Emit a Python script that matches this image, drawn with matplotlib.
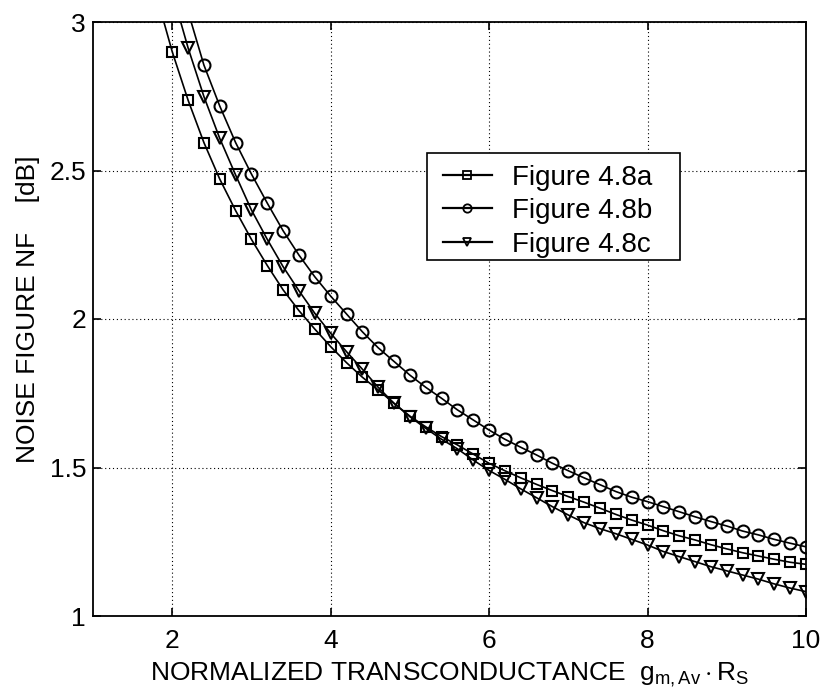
import matplotlib
matplotlib.use("Agg")
import matplotlib.pyplot as plt
from matplotlib.lines import Line2D
from matplotlib.patches import Rectangle

plt.rcParams['font.family'] = ['Liberation Sans', 'DejaVu Sans']
plt.rcParams['mathtext.fontset'] = 'custom'
plt.rcParams['mathtext.rm'] = 'Liberation Sans'
plt.rcParams['mathtext.it'] = 'Liberation Sans:italic'

# normalized transconductance g_m,Av * R_S
gm_rs = [1.8, 2.0, 2.2, 2.4, 2.6, 2.8, 3.0, 3.2, 3.4, 3.6, 3.8,
         4.0, 4.2, 4.4, 4.6, 4.8, 5.0, 5.2, 5.4, 5.6, 5.8,
         6.0, 6.2, 6.4, 6.6, 6.8, 7.0, 7.2, 7.4, 7.6, 7.8,
         8.0, 8.2, 8.4, 8.6, 8.8, 9.0, 9.2, 9.4, 9.6, 9.8, 10.0]

# noise figure [dB] for the three circuit variants
nf_fig_a = [3.09, 2.90, 2.737, 2.594, 2.471, 2.365, 2.268, 2.180, 2.098, 2.028, 1.966,
            1.907, 1.853, 1.804, 1.761, 1.716, 1.673, 1.637, 1.604, 1.576, 1.545,
            1.514, 1.489, 1.465, 1.443, 1.422, 1.402, 1.383, 1.363, 1.342, 1.323,
            1.306, 1.287, 1.270, 1.256, 1.240, 1.226, 1.213, 1.202, 1.191, 1.181, 1.174]

nf_fig_b = [3.36, 3.19, 3.035, 2.855, 2.717, 2.594, 2.488, 2.390, 2.297, 2.215, 2.142,
            2.077, 2.017, 1.957, 1.903, 1.857, 1.811, 1.770, 1.733, 1.694, 1.660,
            1.626, 1.595, 1.568, 1.542, 1.514, 1.489, 1.465, 1.442, 1.419, 1.400,
            1.385, 1.368, 1.351, 1.334, 1.318, 1.303, 1.286, 1.273, 1.258, 1.245, 1.233]

nf_fig_c = [3.30, 3.10, 2.913, 2.749, 2.608, 2.485, 2.367, 2.268, 2.176, 2.095, 2.019,
            1.952, 1.890, 1.831, 1.770, 1.716, 1.671, 1.632, 1.595, 1.563, 1.525,
            1.490, 1.460, 1.428, 1.398, 1.368, 1.340, 1.314, 1.294, 1.277, 1.258,
            1.239, 1.217, 1.200, 1.183, 1.166, 1.152, 1.138, 1.124, 1.108, 1.094, 1.082]

series_labels = ['Figure 4.8a', 'Figure 4.8b', 'Figure 4.8c']
series_markers = ['s', 'o', 'v']
series_sizes = [7.4, 8.6, 8.6]

x_ticks = [2, 4, 6, 8, 10]
y_ticks = [1, 1.5, 2, 2.5, 3]
y_tick_labels = ['1', '1.5', '2', '2.5', '3']

fig = plt.figure(figsize=(8.22, 6.91), dpi=100)
ax = fig.add_axes([93 / 822, 1 - 616 / 691, 713 / 822, 594 / 691])

for ys, mk, ms in zip([nf_fig_a, nf_fig_b, nf_fig_c], series_markers, series_sizes):
    ax.plot(gm_rs, ys, color='black', lw=1.2, marker=mk, ms=ms,
            mfc='none', mec='black', mew=1.5)

ax.set_xlim(1, 10)
ax.set_ylim(1, 3)
ax.set_xticks(x_ticks)
ax.set_xticklabels([str(t) for t in x_ticks])
ax.set_yticks(y_ticks)
ax.set_yticklabels(y_tick_labels)

ax.grid(True, color='black', linestyle=(0, (1, 2.5)), linewidth=0.8)
ax.tick_params(direction='in', top=True, right=True, length=6, width=1.2,
               labelsize=19, colors='black')
ax.tick_params(axis='x', pad=9)
ax.tick_params(axis='y', pad=5)
for sp in ax.spines.values():
    sp.set_linewidth(1.3)
    sp.set_color('black')

ax.set_xlabel(r'NORMALIZED TRANSCONDUCTANCE  $\mathrm{g_{m,Av}}\cdot\mathrm{R_S}$',
              fontsize=19)
ax.xaxis.set_label_coords(0.5, -0.075)
ax.set_ylabel('NOISE FIGURE NF    [dB]', fontsize=19)
ax.yaxis.set_label_coords(-0.075, 0.517)

# legend box drawn as a white framed panel, entries laid out inside it
ax.add_patch(Rectangle((0.4684, 0.5993), 0.3549, 0.1802, transform=ax.transAxes,
                       facecolor='white', edgecolor='black', linewidth=1.2,
                       zorder=4.5, clip_on=False))
handles = [Line2D([], [], color='black', lw=1.6, marker=mk, ms=6,
                  mfc='none', mec='black', mew=1.3)
           for mk in series_markers]
leg = ax.legend(handles, series_labels, loc='upper left',
                bbox_to_anchor=(0.4909, 0.760), borderaxespad=0, borderpad=0,
                frameon=False, fontsize=20, handlelength=1.76,
                handletextpad=0.72, labelspacing=0.27)
leg.set_zorder(5)

fig.savefig('out.png', dpi=100, facecolor='white')
